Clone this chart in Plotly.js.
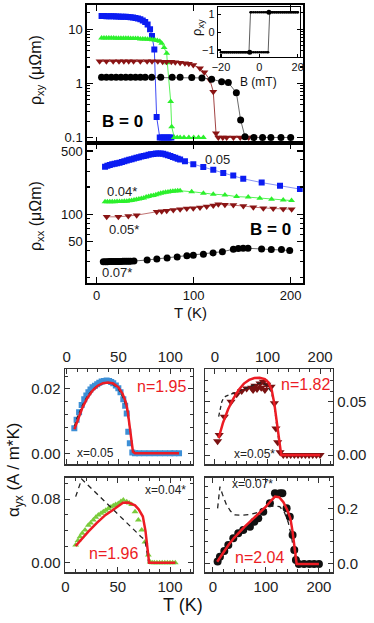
<!DOCTYPE html>
<html>
<head>
<meta charset="utf-8">
<script src="https://cdn.plot.ly/plotly-3.0.1.min.js"></script>
<style>body{margin:0;background:#fff}#fig{width:374px;height:623px}</style>
</head>
<body>
<div id="fig"></div>
<script>
'use strict'
// ---------- top: rho_xy at B = 0 (log) ----------
let xyT_05 = [5,7.5,10,12.5,15,17.5,20,22.5,25,27.5,30,32.5,35,37.5,40,42.5,45,47.5,50,52.5,55,57,59.4,61.8,65,67,69,71,73,75,77];
let xyR_05 = [17.5,17.5,17.4,17.4,17.3,17.3,17.2,17.1,17.0,17.0,16.9,16.8,16.6,16.4,16.1,15.7,15.2,14.5,13.6,12.2,10.0,7.5,4.2,0.24,0.1,0.1,0.1,0.1,0.1,0.1,0.1];
let xyT_04s = [5,7.5,10,12.5,15,17.5,20,22.5,25,27.5,30,32.5,35,37.5,40,42.5,45,47.5,50,52.5,55,57.5,60,62.5,65,67,69.5,72.2,72.8,76.3,77.3,80,83,86,90,95,100,105,110];
let xyR_04s = [6.9,6.9,6.9,6.9,6.9,6.9,6.8,6.8,6.8,6.8,6.8,6.8,6.7,6.7,6.7,6.7,6.6,6.6,6.6,6.5,6.5,6.4,6.3,6.2,6.0,5.5,4.6,3.6,2.4,0.46,0.158,0.1,0.1,0.1,0.1,0.1,0.1,0.1,0.1];
let xyT_05s = [3,10,17,23,28,33,38,45,52,57,63,68,72,77,81,86,91,95,99.6,106.5,111,116.8,120.2,123,125.4,130,134,141,148,156.7,161.9];
let xyR_05s = [2.55,2.55,2.55,2.55,2.55,2.55,2.55,2.55,2.55,2.55,2.55,2.5,2.5,2.5,2.45,2.4,2.35,2.3,2.18,1.89,1.6,1.15,0.70,0.12,0.1,0.1,0.1,0.1,0.1,0.1,0.1];
let xyT_07s = [5,10,15,20,25,30,35,40,45,50,56.7,66,77.8,86,98,108.5,118.5,128.8,135.7,144,148.4,152.9,162,171,179.6,190,200];
let xyR_07s = [1.29,1.29,1.29,1.29,1.29,1.29,1.29,1.29,1.29,1.29,1.29,1.29,1.29,1.29,1.28,1.26,1.19,1.07,1.03,0.67,0.21,0.103,0.1,0.1,0.1,0.1,0.1];

// inset hysteresis loop (B in mT)
let loopUpB = [-20,-19,-18,-17,-16,-15,-14,-13,-12,-11,-10,-9,-8,-7,-6,-5,-4,-3,-2,-1,0,1,2,3,4,4.6,5.4,6,7,8,9,10,11,12,13,14,15,16,17,18,19,20];
let loopUpR = [-1.12,-1.12,-1.12,-1.12,-1.12,-1.12,-1.12,-1.12,-1.12,-1.12,-1.12,-1.12,-1.12,-1.12,-1.12,-1.12,-1.12,-1.12,-1.12,-1.12,-1.12,-1.12,-1.12,-1.12,-1.12,-1.12,1.12,1.12,1.12,1.12,1.12,1.12,1.12,1.12,1.12,1.12,1.12,1.12,1.12,1.12,1.12,1.12];
let loopDnB = [20,19,18,17,16,15,14,13,12,11,10,9,8,7,6,5,4,3,2,1,0,-1,-2,-3,-4,-4.6,-5.4,-6,-7,-8,-9,-10,-11,-12,-13,-14,-15,-16,-17,-18,-19,-20];
let loopDnR = [1.12,1.12,1.12,1.12,1.12,1.12,1.12,1.12,1.12,1.12,1.12,1.12,1.12,1.12,1.12,1.12,1.12,1.12,1.12,1.12,1.12,1.12,1.12,1.12,1.12,1.12,-1.12,-1.12,-1.12,-1.12,-1.12,-1.12,-1.12,-1.12,-1.12,-1.12,-1.12,-1.12,-1.12,-1.12,-1.12,-1.12];
let cornerB = [-5, 5];
let cornerR = [-1.12, 1.12];

// ---------- middle: rho_xx ----------
let xxT_05 = [8.6,11,13.5,16,18.5,21,23.5,26,28.5,31,33.5,36,38.5,41,43.5,46,48.5,51,53.5,56,58.5,61,63.5,66,68.5,71,73.5,76,78.5,81,83.5,86,91,99.6,109.9,120.2,130.5,140.8,151.1,170.1,189,209.6];
let xxR_05 = [336,343,350,356,362,367,371,378,385,392,399,406,413,420,427,434,441,447,453,459,464,468,470,469,465,458,450,440,430,420,410,402,386,358,333,310,286,268,247,224,207,190];
let xxT_04s = [8.6,11,13.5,16,18.5,21,23.5,26,28.5,31,33.5,36,38.5,41,43.5,46,48.5,51,53.5,56,58.5,61,63.5,66,68.5,71,73.5,76,78.5,81,83.5,86,97.9,110,120.2,132.2,144.2,156.2,168.2,180.3,192.3,200.9];
let xxR_04s = [138,138,138,138,138,139,139,139,140,140,141,142,144,146,148,150,152,155,157,160,162,165,168,171,173,175,177,179,180,181,182,182,178,171,167,164,157,155,151,147,144,142];
let xxT_05s = [10.3,22.3,32.6,41.2,61.9,67,72.2,79,86,92.9,99.6,106.5,113.4,120.2,125.4,132.2,140.9,151.2,161.5,171.8,182,192.3,201];
let xxR_05s = [94,94,96,98,107,108,110,112,114,116,117,119,122,125,129,128,127,124,120,117,116,115,114];
let xxT_07s = [6.8,9,11,13,15,17,19,21,23,25,27,29,31,33,35,38.4,52,62,72.6,83,93,99.6,110,120,129.6,140.9,146,151,156,170,180,190.5,199];
let xxR_07s = [30.1,30.1,30.1,30.2,30.2,30.2,30.2,30.3,30.3,30.3,30.4,30.4,30.4,30.5,30.5,30.6,31.4,32.2,33,34,35,35.5,36.3,37.6,38.8,41.2,42,42.3,42.3,41.5,41,41,40];

// ---------- bottom: alpha_yx, data / fit (red) / dashed ----------
let aT05 = [7.4,9.6,12,14.5,17,19,21,23,25,27.3,29.5,31.5,33.8,36,38.6,41,43,45,47.5,49.9,52,54.7,56.5,58,59.5,61,63.4,66,70,75,80,85,90,95,100,104,108.5];
let aA05 = [0.0078,0.0104,0.0128,0.015,0.0168,0.018,0.019,0.0198,0.0205,0.021,0.0215,0.0219,0.0223,0.0225,0.0226,0.0225,0.0222,0.0218,0.0211,0.0202,0.019,0.0168,0.0148,0.0124,0.0067,0.0031,0.0003,0,0,0,0,0,0,0,0,0,0];
let fT05 = [7.5,10,15,20,25,30,35,40,45,50,54,57,59,61,62.5,64,66,80,100,108.5];
let fA05 = [0.0075,0.0098,0.014,0.0172,0.0195,0.021,0.0218,0.022,0.0217,0.0205,0.0185,0.016,0.013,0.008,0.0035,0.0005,0,0,0,0];
let dT05 = [7.5,10,15,20,25,30,35,40,45,50,55,58,60,62,64,66,80,100,108.5];
let dA05 = [0.0085,0.011,0.0148,0.0178,0.0198,0.0211,0.0217,0.0219,0.0214,0.02,0.017,0.014,0.01,0.005,0.001,0,0,0,0];

let aT05s = [5,8,17.8,30.5,41.3,50.8,60.3,69.8,72.5,76,80,85.7,88,92,95,98.4,106.7,113,116,119.3,123.8,130,137,144,151,158,165,172,179,186,193,200];
let aA05s = [0.013,0.0188,0.036,0.05,0.057,0.06,0.0625,0.063,0.061,0.065,0.062,0.067,0.063,0.0687,0.061,0.066,0.064,0.0485,0.025,0.012,0.0025,0,0,0,0,0,0,0,0,0,0,0];
let fT05s = [7,15,25,35,45,55,65,75,85,95,102,108,113,117,120,123,126,140,170,200];
let fA05s = [0.016,0.03,0.043,0.053,0.061,0.067,0.0705,0.0722,0.0725,0.0712,0.068,0.061,0.048,0.033,0.02,0.008,0,0,0,0];
let dT05s = [7,10,13,16,20,30,40,50,60,70,80,90,100,108,113,117,121,125,140,170,200];
let dA05s = [0.036,0.045,0.05,0.053,0.055,0.057,0.059,0.061,0.063,0.065,0.067,0.068,0.065,0.058,0.046,0.03,0.012,0,0,0,0];

let aT04 = [9.7,12,13.9,16,18.7,21.8,24,26.6,29,31.4,34,36.2,38.5,41,43.5,45.7,48,50.5,53,55.3,58.6,61,63.3,66.5,69.7,72.9,76,79.3,81,83,85,87.5,90,92.5,95,97.5,100,102.5,105];
let aA04 = [0.0222,0.028,0.0327,0.037,0.041,0.047,0.05,0.0536,0.057,0.06,0.062,0.064,0.066,0.068,0.07,0.0716,0.073,0.0745,0.077,0.0787,0.0766,0.075,0.073,0.064,0.0536,0.041,0.026,0.0097,0.001,0,0,0,0,0,0,0,0,0,0];
let fT04 = [9.7,15,21.8,30,38.3,45,50,55,60,66.5,70,74,76.5,78.3,80,90,100,105];
let fA04 = [0.021,0.029,0.039,0.05,0.06,0.066,0.071,0.0754,0.0755,0.072,0.067,0.058,0.04,0.015,0,0,0,0];
let dT04 = [9.7,12.5,15.5,25,35,45,55,65,72,76,78,79.5,82,90,100,105];
let dA04 = [0.083,0.095,0.105,0.093,0.08,0.068,0.055,0.042,0.033,0.0285,0.014,0,0,0,0,0];

let aT07 = [8.8,13.2,21.4,29,38.4,47.8,57.2,69.8,78,85.5,95,107.5,117,126.4,131,139,145,150.3,153.5,156.6,162,172,182,191,200];
let aA07 = [0.0084,0.026,0.047,0.068,0.092,0.11,0.122,0.134,0.152,0.164,0.188,0.218,0.254,0.254,0.254,0.2,0.17,0.104,0.05,0.014,0,0,0,0,0];
let fT07 = [8,20,30,40,50,60,70,80,90,100,110,117,125,133,140,146,150,154,158,170,185,200];
let fA07 = [0.008,0.044,0.07,0.094,0.115,0.134,0.152,0.17,0.188,0.206,0.228,0.242,0.24,0.222,0.195,0.165,0.12,0.05,0,0,0,0];
let dT07 = [8.8,11,13.2,18,25,33,41.5,55,70,85,95,104,115,126,135,142,148,153,157,170,185,200];
let dA07 = [0.2,0.24,0.278,0.25,0.215,0.19,0.176,0.175,0.178,0.185,0.195,0.206,0.208,0.206,0.185,0.15,0.1,0.05,0,0,0,0];

const W = 374, H = 623;
const FONT = 'Liberation Sans, Arial, Helvetica, sans-serif';

// pixel boxes -> paper domains
function xd(a, b) { return [a / W, b / W]; }
function yd(top, bot) { return [1 - bot / H, 1 - top / H]; }

function pts(x, y, xa, ya, sym, col, size, lineCol) {
  return {x: x, y: y, xaxis: xa, yaxis: ya, type: 'scatter',
    mode: lineCol ? 'lines+markers' : 'markers',
    marker: {symbol: sym, color: col, size: size, line: {width: 0}},
    line: {color: lineCol || col, width: 0.8}, hoverinfo: 'skip'};
}
function curve(x, y, xa, ya, col, w, dash) {
  return {x: x, y: y, xaxis: xa, yaxis: ya, type: 'scatter', mode: 'lines',
    line: {color: col, width: w, dash: dash || 'solid'}, hoverinfo: 'skip'};
}

let BLUE = '#0b1cf2', GREEN = '#2cf02c', DRED = '#8a1414', BLK = '#000';
let traces = [
  pts(xyT_05, xyR_05, 'x', 'y', 'square', BLUE, 6, BLUE),
  pts(xyT_04s, xyR_04s, 'x', 'y', 'triangle-up', GREEN, 6, GREEN),
  pts(xyT_05s, xyR_05s, 'x', 'y', 'triangle-down', DRED, 7, DRED),
  pts(xyT_07s, xyR_07s, 'x', 'y', 'circle', BLK, 7, '#444'),

  pts(loopUpB, loopUpR, 'x3', 'y3', 'circle', BLK, 2.5, '#333'),
  pts(loopDnB, loopDnR, 'x3', 'y3', 'circle', BLK, 2.5, '#333'),
  pts(cornerB, cornerR, 'x3', 'y3', 'circle', BLK, 5),

  pts(xxT_05, xxR_05, 'x2', 'y2', 'square', BLUE, 6, '#6b78f0'),
  pts(xxT_04s, xxR_04s, 'x2', 'y2', 'triangle-up', GREEN, 6, GREEN),
  pts(xxT_05s, xxR_05s, 'x2', 'y2', 'triangle-down', DRED, 7, '#b05050'),
  pts(xxT_07s, xxR_07s, 'x2', 'y2', 'circle', BLK, 7, '#444'),

  pts(aT05, aA05, 'x4', 'y4', 'square', '#3d8fd6', 6),
  curve(dT05, dA05, 'x4', 'y4', '#222', 1.3, '4px,3px'),
  curve(fT05, fA05, 'x4', 'y4', '#ec1c24', 2.5),

  pts(aT05s, aA05s, 'x5', 'y5', 'triangle-down', '#7a1212', 8),
  curve(dT05s, dA05s, 'x5', 'y5', '#222', 1.3, '4px,3px'),
  curve(fT05s, fA05s, 'x5', 'y5', '#ec1c24', 2.5),

  pts(aT04, aA04, 'x6', 'y6', 'triangle-up', '#7acb3c', 6),
  curve(dT04, dA04, 'x6', 'y6', '#222', 1.3, '5px,4px'),
  curve(fT04, fA04, 'x6', 'y6', '#ec1c24', 2.5),

  pts(aT07, aA07, 'x7', 'y7', 'circle', '#111', 8),
  curve(dT07, dA07, 'x7', 'y7', '#222', 1.3, '5px,4px'),
  curve(fT07, fA07, 'x7', 'y7', '#ec1c24', 2.5)
];

function topAx(extra) {
  let a = {showgrid: false, zeroline: false, showline: true, mirror: 'ticks',
    linewidth: 2, linecolor: '#000', ticks: 'inside', ticklen: 6, tickwidth: 1.2,
    tickcolor: '#000', tickfont: {family: FONT, size: 13, color: '#111'}};
  return Object.assign(a, extra);
}
function botAx(extra) {
  let a = {showgrid: false, zeroline: false, showline: true, mirror: 'ticks',
    linewidth: 1.5, linecolor: '#333', ticks: 'inside', ticklen: 5, tickwidth: 1,
    tickcolor: '#333', tickfont: {family: FONT, size: 15, color: '#222'}};
  return Object.assign(a, extra);
}
function minor(d) { return {dtick: d, ticks: 'inside', ticklen: 3, tickcolor: '#333'}; }

let layout = {
  width: W, height: H, margin: {l: 0, r: 0, t: 0, b: 0},
  paper_bgcolor: '#fff', plot_bgcolor: 'rgba(0,0,0,0)', showlegend: false,
  font: {family: FONT},
  xaxis: topAx({domain: xd(87.3, 302.7), range: [-9.7, 212.4], anchor: 'y',
    tickvals: [0, 100, 200], showticklabels: false}),
  yaxis: topAx({domain: yd(5, 143), type: 'log', range: [-1.102, 1.446], anchor: 'x',
    tickmode: 'array', tickvals: [0.1, 1, 10], ticktext: ['0.1', '1', '10'],
    minor: {tickmode: 'array', tickvals: [0.2,0.3,0.4,0.5,0.6,0.7,0.8,0.9,2,3,4,5,6,7,8,9,20],
      ticks: 'inside', ticklen: 3, tickcolor: '#000'}}),
  xaxis2: topAx({domain: xd(87.3, 302.7), range: [-9.7, 212.4], anchor: 'y2',
    tickvals: [0, 100, 200]}),
  yaxis2: topAx({domain: yd(143, 282.5), type: 'log', range: [1.249, 2.787], anchor: 'x2',
    tickmode: 'array', tickvals: [50, 100, 500], ticktext: ['50', '100', '500'],
    minor: {tickmode: 'array', tickvals: [20,30,40,60,70,80,90,200,300,400],
      ticks: 'inside', ticklen: 3, tickcolor: '#000'}}),
  xaxis3: topAx({domain: xd(217.7, 300), range: [-21.7, 21.2], anchor: 'y3', linewidth: 1,
    mirror: true, tickvals: [-20, 0, 20], ticklen: 3, tickfont: {family: FONT, size: 11, color: '#111'}}),
  yaxis3: topAx({domain: yd(6.7, 57), range: [-1.39, 1.43], anchor: 'x3', linewidth: 1,
    mirror: true, tickvals: [-1, 0, 1], ticklen: 3, tickfont: {family: FONT, size: 11, color: '#111'}}),

  xaxis4: botAx({domain: xd(65, 192.7), range: [-1.6, 121.7], anchor: 'y4', side: 'top',
    dtick: 50, minor: minor(10)}),
  yaxis4: botAx({domain: yd(369, 464.3), range: [-0.0034, 0.0262], anchor: 'x4',
    tickvals: [0, 0.02], ticktext: ['0.00', '0.02'], minor: minor(0.004)}),
  xaxis5: botAx({domain: xd(205, 332.7), range: [-19, 224], anchor: 'y5', side: 'top',
    dtick: 100, minor: minor(20)}),
  yaxis5: botAx({domain: yd(369, 464.3), range: [-0.0087, 0.0807], anchor: 'x5', side: 'right',
    tickvals: [0, 0.05], ticktext: ['0.00', '0.05'], minor: minor(0.01)}),
  xaxis6: botAx({domain: xd(65, 192.7), range: [-0.5, 121.7], anchor: 'y6',
    dtick: 50, minor: minor(10)}),
  yaxis6: botAx({domain: yd(477.7, 572.3), range: [-0.0121, 0.1068], anchor: 'x6',
    tickvals: [0, 0.08], ticktext: ['0.00', '0.08'], minor: minor(0.02)}),
  xaxis7: botAx({domain: xd(205, 332.7), range: [-15, 226], anchor: 'y7',
    dtick: 100, minor: minor(20)}),
  yaxis7: botAx({domain: yd(477.7, 572.3), range: [-0.03, 0.31], anchor: 'x7', side: 'right',
    tickvals: [0, 0.2], ticktext: ['0.0', '0.2'], minor: minor(0.04)}),
  annotations: []
};

// text labels placed in pixels
function note(text, px, py, size, color, angle, bold) {
  layout.annotations.push({text: bold ? '<b>' + text + '</b>' : text,
    xref: 'paper', yref: 'paper', x: px / W, y: 1 - py / H,
    xanchor: 'center', yanchor: 'middle', showarrow: false, textangle: angle || 0,
    font: {family: FONT, size: size, color: color || '#111'}});
}
note('ρ<sub>xy</sub> (μΩm)', 36, 70, 16, '#111', -90);
note('ρ<sub>xx</sub> (μΩm)', 37, 216, 16, '#111', -90);
note('T (K)', 190, 312, 15);
note('B = 0', 122, 122, 17, '#000', 0, true);
note('B = 0', 270, 229, 17, '#000', 0, true);
note('0.05', 217, 160, 13, '#222');
note('0.04*', 122, 192, 13, '#222');
note('0.05*', 124, 229, 13, '#222');
note('0.07*', 117, 272, 13, '#222');
note('ρ<sub>xy</sub>', 197, 28, 13, '#111', -90);
note('B (mT)', 258, 82, 12);
note('α<sub>yx</sub> (A / m*K)', 15, 470, 17, '#111', -90);
note('T (K)', 183, 605, 18);
note('n=1.95', 161, 386, 16, '#ec1c24');
note('n=1.82', 305, 384, 16, '#ec1c24');
note('n=1.96', 113, 553, 16, '#ec1c24');
note('n=2.04', 259, 557, 16, '#ec1c24');
note('x=0.05', 95, 453, 12, '#222');
note('x=0.05*', 255, 454, 12, '#222');
note('x=0.04*', 165, 490, 12, '#222');
note('x=0.07*', 252, 484, 12, '#222');

Plotly.newPlot(document.getElementById('fig'), traces, layout, {staticPlot: true});
</script>
</body>
</html>
